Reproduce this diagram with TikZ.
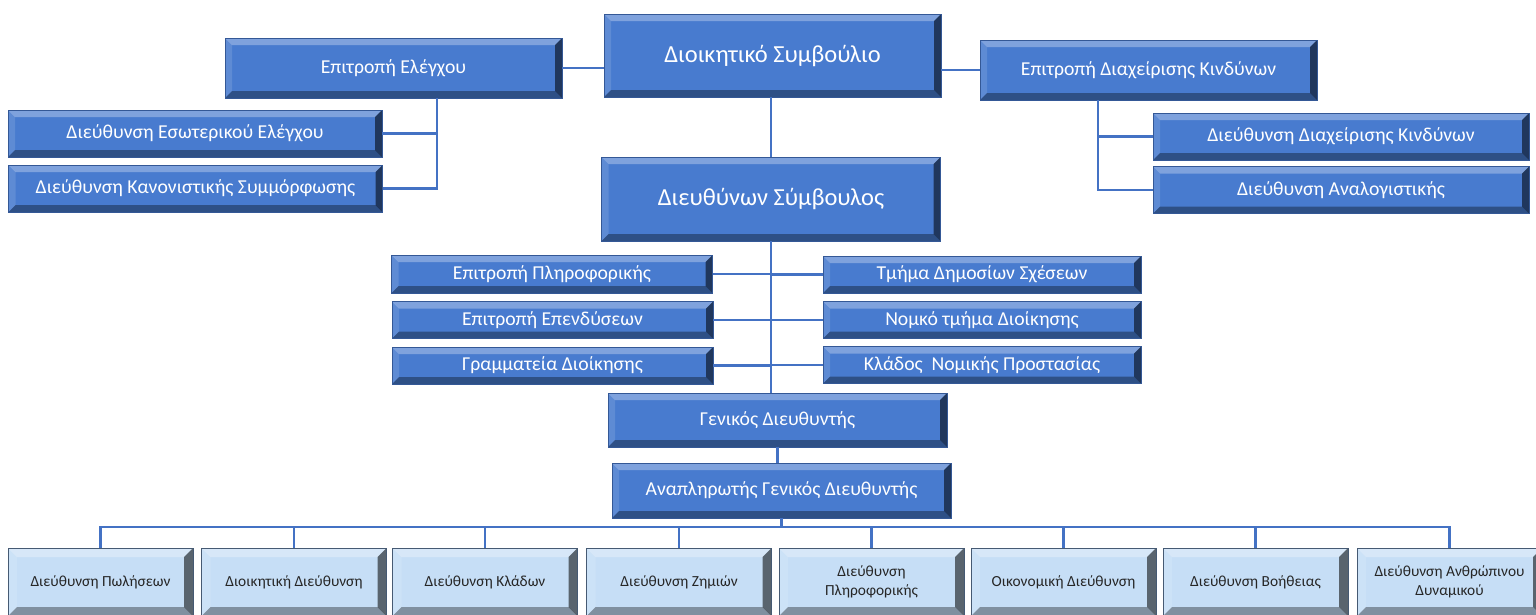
\documentclass[tikz,border=0pt]{standalone}
\usepackage{fontspec}
\setmainfont{Carlito}
\usetikzlibrary{calc}

\definecolor{boxblue}{RGB}{72,123,207}
\definecolor{boxedge}{RGB}{52,88,150}
\definecolor{paleblue}{RGB}{198,222,246}
\definecolor{paleedge}{RGB}{70,90,115}
\definecolor{linkblue}{RGB}{68,114,196}

\tikzset{
  bevel/.style={path picture={
    \coordinate (pbl) at (path picture bounding box.south west);
    \coordinate (ptr) at (path picture bounding box.north east);
    \coordinate (ptl) at (pbl |- ptr);
    \coordinate (pbr) at (ptr |- pbl);
    \fill[white,opacity=.30] (ptl) -- (ptr) -- ([shift={(-#1,-#1)}]ptr) -- ([shift={(#1,-#1)}]ptl) -- cycle;
    \fill[white,opacity=.12] (ptl) -- (pbl) -- ([shift={(#1,#1)}]pbl) -- ([shift={(#1,-#1)}]ptl) -- cycle;
    \fill[black,opacity=.35] (pbl) -- (pbr) -- ([shift={(-#1,#1)}]pbr) -- ([shift={(#1,#1)}]pbl) -- cycle;
    \fill[black,opacity=.55] (ptr) -- (pbr) -- ([shift={(-#1,#1)}]pbr) -- ([shift={(-#1,-#1)}]ptr) -- cycle;
  }},
  darkbox/.style={draw=boxedge, fill=boxblue, text=white, inner sep=0pt,
    minimum width=#1, bevel=7pt, align=center},
  big/.style={font=\fontsize{24.5}{28}\selectfont},
  mid/.style={font=\fontsize{19.7}{23}\selectfont},
  unitbox/.style={draw=paleedge, fill=paleblue, text=black!85, inner sep=0pt,
    minimum width=185pt, minimum height=68pt, bevel=9pt, align=center,
    font=\fontsize{15.4}{19}\selectfont},
  link/.style={draw=linkblue, line width=2.5pt}
}

\begin{document}
\begin{tikzpicture}[x=1pt,y=-1pt]
  \useasboundingbox (0,0) rectangle (1536,614);

  % top levels
  \node[darkbox=337pt, minimum height=83pt, big] (board) at (772.5,55.5) {Διοικητικό Συμβούλιο};
  \node[darkbox=337pt, minimum height=60pt, mid] (audcom) at (393.5,68) {Επιτροπή Ελέγχου};
  \node[darkbox=337pt, minimum height=60pt, mid] (riskcom) at (1148.5,70) {Επιτροπή Διαχείρισης Κινδύνων};
  \node[darkbox=374pt, minimum height=47pt, mid] (intaudit) at (195,133.5) {Διεύθυνση Εσωτερικού Ελέγχου};
  \node[darkbox=374pt, minimum height=47pt, mid] (compliance) at (195.5,188.5) {Διεύθυνση Κανονιστικής Συμμόρφωσης};
  \node[darkbox=376pt, minimum height=47pt, mid] (riskdir) at (1341,136.5) {Διεύθυνση Διαχείρισης Κινδύνων};
  \node[darkbox=376pt, minimum height=47pt, mid] (actuarial) at (1341,190) {Διεύθυνση Αναλογιστικής};
  \node[darkbox=339pt, minimum height=84pt, big] (ceo) at (771,199) {Διευθύνων Σύμβουλος};

  % staff units
  \node[darkbox=321pt, minimum height=38pt, mid] (itcom) at (552,274) {Επιτροπή Πληροφορικής};
  \node[darkbox=321pt, minimum height=37pt, mid] (invcom) at (552.5,320) {Επιτροπή Επενδύσεων};
  \node[darkbox=321pt, minimum height=37pt, mid] (secretariat) at (552.5,365.5) {Γραμματεία Διοίκησης};
  \node[darkbox=318pt, minimum height=37pt, mid] (pr) at (982,274.5) {Τμήμα Δημοσίων Σχέσεων};
  \node[darkbox=318pt, minimum height=37pt, mid] (legal) at (982,320) {Νομκό τμήμα Διοίκησης};
  \node[darkbox=318pt, minimum height=37pt, mid] (legalprot) at (982,365) {Κλάδος~ Νομικής Προστασίας};

  \node[darkbox=339pt, minimum height=54pt, mid] (gm) at (777.5,420) {Γενικός Διευθυντής};
  \node[darkbox=339pt, minimum height=55pt, mid] (dgm) at (781.5,490.5) {Αναπληρωτής Γενικός Διευθυντής};

  % directorates
  \node[unitbox] (b1) at (100.5,582) {Διεύθυνση Πωλήσεων};
  \node[unitbox] (b2) at (294,582) {Διοικητική Διεύθυνση};
  \node[unitbox] (b3) at (485,582) {Διεύθυνση Κλάδων};
  \node[unitbox] (b4) at (679,582) {Διεύθυνση Ζημιών};
  \node[unitbox] (b5) at (871.5,582) {Διεύθυνση\\Πληροφορικής};
  \node[unitbox] (b6) at (1063.5,582) {Οικονομική Διεύθυνση};
  \node[unitbox] (b7) at (1255.5,582) {Διεύθυνση Βοήθειας};
  \node[unitbox] (b8) at (1449.5,582) {Διεύθυνση Ανθρώπινου\\Δυναμικού};

  \coordinate (audbar) at (437,98);
  \coordinate (riskbar) at (1098,100);
  \coordinate (bus) at (770,527);

  \draw[link] (audcom.east) -- (audcom.east -| board.west);
  \draw[link] (riskcom.west) -- (riskcom.west -| board.east);
  \draw[link] (audbar) |- (compliance.east);
  \draw[link] (intaudit.east) -- (intaudit.east -| audbar);
  \draw[link] (riskbar) |- (actuarial.west);
  \draw[link] (riskdir.west) -- (riskdir.west -| riskbar);
  \draw[link] (ceo.north |- board.south) -- (ceo.north);
  \draw[link] (ceo.south) -- (ceo.south |- gm.north);
  \draw[link] (itcom.east) -- (itcom.east -| ceo.south);
  \draw[link] (invcom.east) -- (invcom.east -| ceo.south);
  \draw[link] (secretariat.east) -- (secretariat.east -| ceo.south);
  \draw[link] (pr.west) -- (pr.west -| ceo.south);
  \draw[link] (legal.west) -- (legal.west -| ceo.south);
  \draw[link] (legalprot.west) -- (legalprot.west -| ceo.south);
  \draw[link] (gm.south) -- (gm.south |- dgm.north);
  \draw[link] (dgm.south) -- (dgm.south |- bus);
  \draw[link] (b1.north) |- (bus) -| (b8.north);
  \foreach \b in {b2,b3,b4,b5,b6,b7}
    \draw[link] (\b.north) -- (\b.north |- bus);
\end{tikzpicture}
\end{document}
